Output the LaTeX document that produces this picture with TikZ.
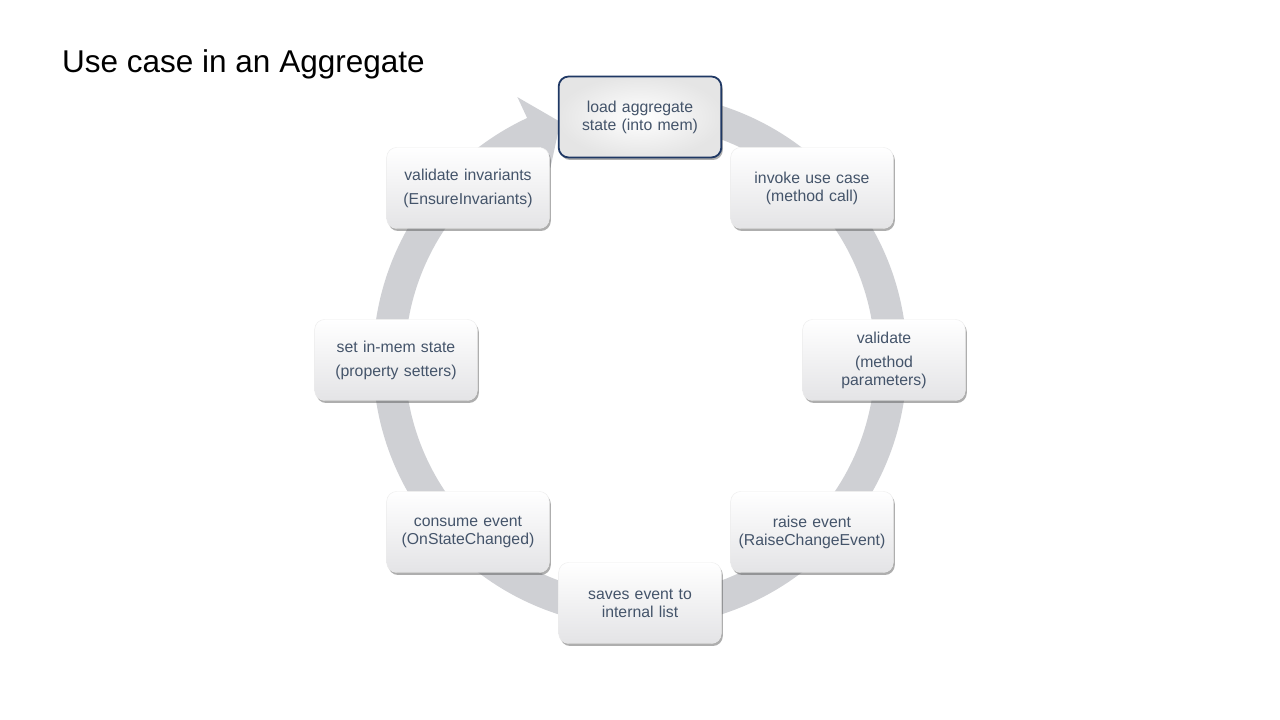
\documentclass[tikz,border=0pt]{standalone}
\usepackage{fontspec}
\setmainfont{Liberation Sans}
\usetikzlibrary{shadows}
\definecolor{ringcol}{HTML}{CFD0D4}
\definecolor{txtcol}{HTML}{44546A}
\definecolor{navy}{HTML}{1F3864}
\definecolor{boxbot}{HTML}{E4E4E6}
\begin{document}
\begin{tikzpicture}[x=1pt,y=1pt,
  stepbox/.style={rounded corners=10pt, minimum width=162pt, minimum height=81pt,
    text width=156pt, align=center, text=txtcol, font=\fontsize{15.8}{18}\selectfont,
    top color=white, bottom color=boxbot, draw=gray!15, line width=0.4pt,
    drop shadow={shadow xshift=1.5pt, shadow yshift=-2.5pt, opacity=0.45, fill=black!70}},
  firstbox/.style={stepbox, inner color=white, outer color=gray!20, draw=navy, line width=1.8pt}]
\useasboundingbox (0,0) rectangle (1280,720);
\fill[white] (0,0) rectangle (1280,720);
\node[anchor=base west, inner sep=0pt, font=\fontsize{31.5}{36}\selectfont] (title) at (62,647) {Use case in an Aggregate};
\begin{scope}[shift={(640,360)}]
\fill[ringcol] (90:267) arc[start angle=90, end angle=-245, radius=267]
  -- (115:290) -- (108.5:251) -- (115:212) -- (115:235)
  arc[start angle=-245, end angle=90, radius=235] -- cycle;
\end{scope}
\node[firstbox] (load) at (640,603) {load aggregate\\state (into mem)};
\node[stepbox] (invoke) at (812,532) {invoke use case\\(method call)};
\node[stepbox] (valid) at (884,360) {validate\\[6pt](method\\parameters)};
\node[stepbox] (raise) at (812,188) {raise event\\(RaiseChangeEvent)};
\node[stepbox] (saves) at (640,117) {saves event to\\internal list};
\node[stepbox] (consume) at (468,188) {consume event\\(OnStateChanged)};
\node[stepbox] (set) at (396,360) {set in-mem state\\[6pt](property setters)};
\node[stepbox] (inv) at (468,532) {validate invariants\\[6pt](EnsureInvariants)};
\end{tikzpicture}
\end{document}
